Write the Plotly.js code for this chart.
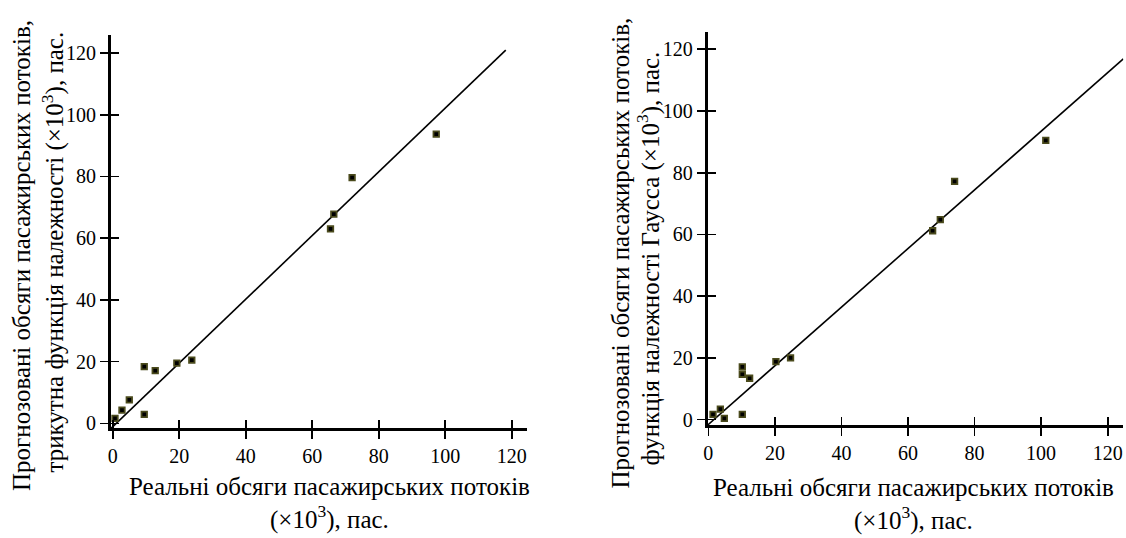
<!DOCTYPE html>
<html>
<head>
<meta charset="utf-8">
<script src="https://cdn.plot.ly/plotly-3.0.1.min.js"></script>
<style>
  html, body { margin: 0; padding: 0; background: #fff; }
  #chart { width: 1126px; height: 538px; }
</style>
</head>
<body>
<div id="chart"></div>
<script>
// Triangular membership function model: real vs predicted passenger flows (×10³)
const realTri = [0.7, 2.8, 5.0, 9.5, 9.5, 12.8, 19.3, 23.8, 65.5, 66.5, 72.0, 97.3];
const predTri = [1.6, 4.3, 7.6, 2.9, 18.4, 17.1, 19.5, 20.5, 63.0, 67.8, 79.6, 93.7];
const lineTriX = [-0.5, 118.2];
const lineTriY = [-1.6, 120.9];

// Gaussian membership function model
const realGauss = [-0.5, 1.4, 3.6, 4.8, 10.2, 10.2, 10.2, 12.4, 20.3, 24.7, 67.4, 69.7, 74.0, 101.4];
const predGauss = [-0.1, 1.7, 3.4, 0.4, 1.7, 17.1, 14.7, 13.4, 18.8, 20.0, 61.2, 64.8, 77.2, 90.5];
const lineGaussX = [-0.2, 124.7];
const lineGaussY = [-1.75, 116.9];

const tickValues = [0, 20, 40, 60, 80, 100, 120];

const xTitleText = 'Реальні обсяги пасажирських потоків<br>(×10<sup>3</sup>), пас.';
const yTitleLine1 = 'Прогнозовані обсяги пасажирських потоків,';
const yTitleTriLine2 = 'трикутна функція належності (×10<sup>3</sup>), пас.';
const yTitleGaussLine2 = 'функція належності Гаусса (×10<sup>3</sup>), пас.';

const FONT = 'Liberation Serif';
const W = 1126, H = 538;
const px = v => v / W;
const py = v => 1 - v / H;

const markerStyle = {
  symbol: 'square', size: 5.5, color: '#000',
  line: { color: '#4a4a1c', width: 1.8 }
};

const traces = [
  { x: lineTriX, y: lineTriY, xaxis: 'x', yaxis: 'y', mode: 'lines',
    line: { color: '#000', width: 1.6 }, hoverinfo: 'skip', cliponaxis: false },
  { x: realTri, y: predTri, xaxis: 'x', yaxis: 'y', mode: 'markers',
    marker: markerStyle, cliponaxis: false },
  { x: lineGaussX, y: lineGaussY, xaxis: 'x2', yaxis: 'y2', mode: 'lines',
    line: { color: '#000', width: 1.6 }, hoverinfo: 'skip', cliponaxis: false },
  { x: realGauss, y: predGauss, xaxis: 'x2', yaxis: 'y2', mode: 'markers',
    marker: markerStyle, cliponaxis: false },
  // empty traces that host the inner-tick overlay axes
  { x: [], y: [], xaxis: 'x3', yaxis: 'y3', mode: 'markers', hoverinfo: 'skip' },
  { x: [], y: [], xaxis: 'x4', yaxis: 'y4', mode: 'markers', hoverinfo: 'skip' }
];

function mainAxis(domain, range, anchor) {
  return {
    domain, range, anchor,
    showline: true, linecolor: '#000', linewidth: 3,
    showgrid: false, zeroline: false,
    ticks: 'outside', ticklen: 8, tickwidth: 1.7, tickcolor: '#000',
    tickmode: 'array', tickvals: tickValues,
    tickfont: { family: FONT, size: 20, color: '#000' },
    fixedrange: true
  };
}
function innerAxis(domain, range, anchor, overlay) {
  return {
    domain, range, anchor, overlaying: overlay,
    showline: false, showgrid: false, zeroline: false,
    ticks: 'inside', ticklen: 8, tickwidth: 1.7, tickcolor: '#000',
    tickmode: 'array', tickvals: tickValues,
    showticklabels: false, fixedrange: true
  };
}

const xRangeTri = [-0.5, 124.5], yRangeTri = [-1.6, 125.8];
const xRangeGauss = [-0.2, 124.7], yRangeGauss = [-1.75, 125.7];
const xDomTri = [px(111), px(526.7)], yDomTri = [py(428.3), py(35)];
const xDomGauss = [px(707.7), px(1123.3)], yDomGauss = [py(425), py(31.7)];

const titleFont = { family: FONT, size: 25, color: '#000' };
function label(text, cx, cy, angle) {
  return { text, xref: 'paper', yref: 'paper', x: px(cx), y: py(cy),
    xanchor: 'center', yanchor: 'middle', textangle: angle || 0,
    showarrow: false, font: titleFont };
}

const layout = {
  width: W, height: H,
  margin: { l: 0, r: 0, t: 0, b: 0 },
  paper_bgcolor: '#fff', plot_bgcolor: 'rgba(0,0,0,0)',
  showlegend: false,
  font: { family: FONT, color: '#000' },
  xaxis: mainAxis(xDomTri, xRangeTri, 'y'),
  yaxis: mainAxis(yDomTri, yRangeTri, 'x'),
  xaxis2: mainAxis(xDomGauss, xRangeGauss, 'y2'),
  yaxis2: mainAxis(yDomGauss, yRangeGauss, 'x2'),
  xaxis3: innerAxis(xDomTri, xRangeTri, 'y3', 'x'),
  yaxis3: innerAxis(yDomTri, yRangeTri, 'x3', 'y'),
  xaxis4: innerAxis(xDomGauss, xRangeGauss, 'y4', 'x2'),
  yaxis4: innerAxis(yDomGauss, yRangeGauss, 'x4', 'y2'),
  annotations: [
    label(xTitleText, 329, 503.5),
    label(xTitleText, 913, 504),
    label(yTitleLine1, 21, 256, -90),
    label(yTitleTriLine2, 53.6, 252, -90),
    label(yTitleLine1, 619.6, 253, -90),
    label(yTitleGaussLine2, 648.4, 258, -90)
  ]
};

Plotly.newPlot('chart', traces, layout, { displayModeBar: false, staticPlot: true });
</script>
</body>
</html>
